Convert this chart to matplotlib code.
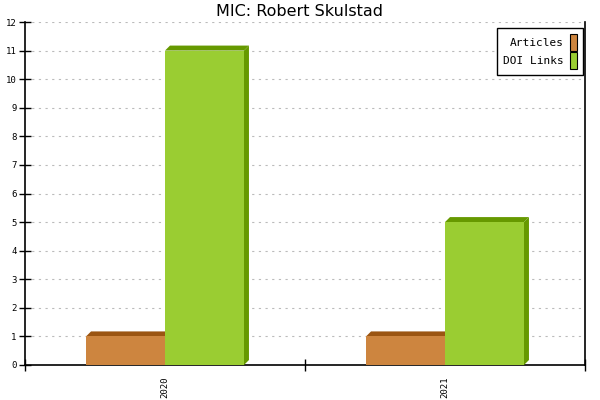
import matplotlib
matplotlib.use("Agg")
import matplotlib.pyplot as plt
from matplotlib.patches import Polygon, Rectangle

years = ["2020", "2021"]
articles = [1, 1]
doi_links = [11, 5]

series = [
    ("Articles", articles, "#cd853f", "#9b5512"),
    ("DOI Links", doi_links, "#9acd32", "#669900"),
]

fig = plt.figure(figsize=(6, 4), dpi=100)
ax = fig.add_axes([25 / 600, 1 - 365 / 400, 560 / 600, 343 / 400])
ax.set_xlim(0, len(years))
ax.set_ylim(0, 12)

# depth offset of the 3d look, in data units (~5 px)
dx = len(years) / 560 * 5
dy = 12 / 343 * 5
width = 0.282

for i in range(len(years)):
    for j, (name, vals, face, dark) in enumerate(series):
        x0 = i + 0.5 - width + j * width
        x1 = x0 + width
        h = vals[i]
        ax.add_patch(Polygon([(x0, h), (x0 + dx, h + dy), (x1 + dx, h + dy), (x1, h)],
                             closed=True, facecolor=dark, edgecolor="none", zorder=3))
        ax.add_patch(Polygon([(x1, 0), (x1, h), (x1 + dx, h + dy), (x1 + dx, dy)],
                             closed=True, facecolor=dark, edgecolor="none", zorder=3))
        ax.add_patch(Rectangle((x0, 0), width, h, facecolor=face, edgecolor="none", zorder=4))

ax.set_yticks(range(13))
ax.set_yticklabels([str(v) for v in range(13)], fontsize=6.5, family="DejaVu Sans Mono")
ax.yaxis.grid(True, color="#bbbbbb", linestyle=(0, (2, 4)), linewidth=0.8)
ax.set_axisbelow(True)

ax.set_xticks(range(len(years) + 1))
ax.set_xticklabels([])
ax.set_xticks([i + 0.5 for i in range(len(years))], minor=True)
ax.set_xticklabels(years, minor=True, rotation=90, fontsize=6.5, family="DejaVu Sans Mono")
ax.tick_params(axis="x", which="minor", length=0, pad=8)
ax.tick_params(axis="x", which="major", direction="inout", length=8, width=1)
ax.tick_params(axis="y", direction="inout", length=8, width=1, pad=2)

ax.spines["top"].set_visible(False)
for s in ("left", "bottom", "right"):
    ax.spines[s].set_linewidth(1.2)

handles = [Rectangle((0, 0), 1, 1, facecolor=c, edgecolor="black", linewidth=0.8)
           for _, _, c, _ in series]
leg = ax.legend(handles, [s[0] for s in series], loc="upper right",
                bbox_to_anchor=(583 / 600, 1 - 28 / 400), bbox_transform=fig.transFigure,
                borderaxespad=0, markerfirst=False, handlelength=0.6, handleheight=1.9,
                handletextpad=0.6, labelspacing=0.15, borderpad=0.55, fancybox=False,
                framealpha=1, prop={"family": "DejaVu Sans Mono", "size": 8})
leg.get_frame().set_edgecolor("black")
leg.get_frame().set_linewidth(1)

fig.text(0.5, 1 - 11 / 400, "MIC: Robert Skulstad", ha="center", va="center", fontsize=11.5)

fig.savefig("out.png", dpi=100)
